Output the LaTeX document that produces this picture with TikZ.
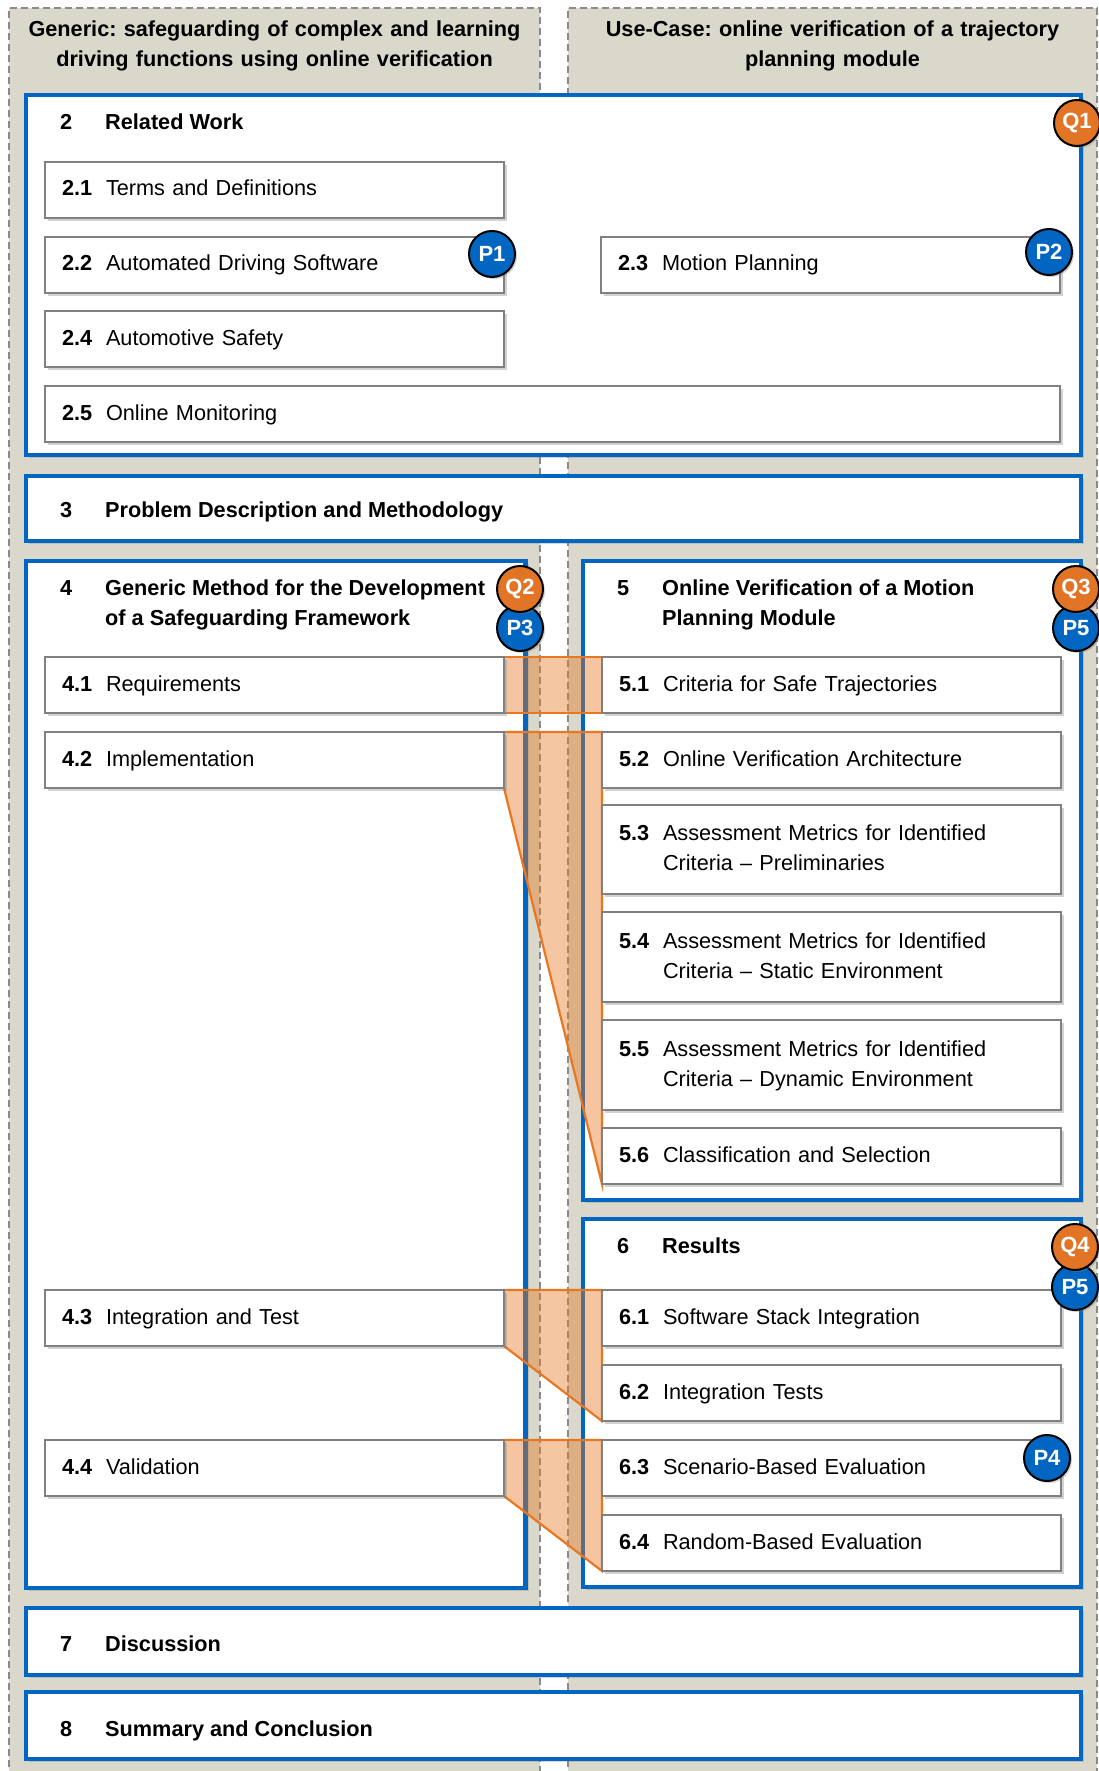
\documentclass[tikz,border=0pt]{standalone}
\usepackage{fontspec}
\setmainfont{Liberation Sans}
\usetikzlibrary{shadows}
\frenchspacing

\definecolor{colbg}{RGB}{218,216,203}
\definecolor{dashgrey}{RGB}{138,138,138}
\definecolor{secblue}{RGB}{0,102,193}
\definecolor{subgrey}{RGB}{128,128,128}
\definecolor{qorange}{RGB}{226,116,38}
\definecolor{bandline}{RGB}{232,119,34}

\pgfdeclarelayer{back}
\pgfdeclarelayer{mid}
\pgfsetlayers{back,mid,main}

% number column + (possibly two-line) title
\newcommand\numtext[2]{\makebox[44pt][l]{\bfseries #1}\begin{tabular}[t]{@{}l@{}}#2\end{tabular}}
\newcommand\headtext[2]{\makebox[45pt][l]{#1}\begin{tabular}[t]{@{}l@{}}#2\end{tabular}}

\tikzset{
  column/.style={draw=dashgrey, line width=1.8pt, dash pattern=on 7pt off 4pt},
  colhead/.style={font=\fontsize{21.7}{30}\selectfont\bfseries, text width=520pt,
    align=center, anchor=base, inner sep=0pt},
  bigbox/.style={draw=secblue, line width=4.5pt, fill=white, anchor=north west,
    inner sep=0pt, outer sep=0pt,
    drop shadow={shadow xshift=3pt, shadow yshift=-3pt, opacity=0.3}},
  heading/.style={font=\fontsize{21.7}{30}\selectfont\bfseries, anchor=base west,
    inner sep=0pt},
  subbox/.style={draw=subgrey, line width=2pt, fill=white, anchor=north west,
    outer sep=0pt, inner xsep=17pt, inner ysep=0pt, align=left,
    minimum height=56pt, font=\fontsize{21.7}{30}\selectfont,
    drop shadow={shadow xshift=3pt, shadow yshift=-3pt, opacity=0.35}},
  subL/.style={subbox, text width=425pt},
  subW/.style={subbox, text width=981pt},
  band/.style={draw=bandline, line width=2.2pt, fill=bandline, fill opacity=0.42},
  badge/.style={circle, draw=black, line width=2pt, minimum size=46pt,
    inner sep=0pt, text=white, font=\fontsize{22}{22}\selectfont\bfseries,
    drop shadow={shadow xshift=2pt, shadow yshift=-2pt, opacity=0.35}},
  qbadge/.style={badge, fill=qorange},
  pbadge/.style={badge, fill=secblue}
}

\begin{document}
\begin{tikzpicture}[x=1pt, y=-1pt]
\useasboundingbox (0,0) rectangle (1099,1771);

\begin{pgfonlayer}{back}
  % the two column panels
  \fill[colbg] (9,8) rectangle (540,1800);
  \draw[column] (9,1800) -- (9,8) -- (540,8) -- (540,1800);
  \fill[colbg] (568,8) rectangle (1097,1800);
  \draw[column] (568,1800) -- (568,8) -- (1097,8) -- (1097,1800);

  % chapter frames
  \node[bigbox, minimum width=1055pt, minimum height=360pt] (b2) at (26,95) {};
  \node[bigbox, minimum width=1055pt, minimum height=65pt] (b3) at (26,476) {};
  \node[bigbox, minimum width=499.5pt, minimum height=1027pt] (b4) at (26,561) {};
  \node[bigbox, minimum width=498pt, minimum height=639pt] (b5) at (583,561) {};
  \node[bigbox, minimum width=498pt, minimum height=368pt] (b6) at (583,1219) {};
  \node[bigbox, minimum width=1055pt, minimum height=67pt] (b7) at (26,1608) {};
  \node[bigbox, minimum width=1055pt, minimum height=67pt] (b8) at (26,1692) {};
\end{pgfonlayer}

% column titles
\node[colhead] (hgen) at (274.5,37) {Generic: safeguarding of complex and learning\\driving functions using online verification};
\node[colhead] (huse) at (832.5,37) {Use-Case: online verification of a trajectory\\planning module};

% chapter headings
\node[heading] (t2) at (60,130) {\headtext{2}{Related Work}};
\node[heading] (t3) at (60,517) {\headtext{3}{Problem Description and Methodology}};
\node[heading] (t4) at (60,595) {\headtext{4}{Generic Method for the Development\\of a Safeguarding Framework}};
\node[heading] (t5) at (617,595) {\headtext{5}{Online Verification of a Motion\\Planning Module}};
\node[heading] (t6) at (617,1253) {\headtext{6}{Results}};
\node[heading] (t7) at (60,1651) {\headtext{7}{Discussion}};
\node[heading] (t8) at (60,1736) {\headtext{8}{Summary and Conclusion}};

% sections
\node[subL] (s21) at (45,162) {\numtext{2.1}{Terms and Definitions}};
\node[subL] (s22) at (45,237) {\numtext{2.2}{Automated Driving Software}};
\node[subL] (s23) at (601,237) {\numtext{2.3}{Motion Planning}};
\node[subL] (s24) at (45,311) {\numtext{2.4}{Automotive Safety}};
\node[subW] (s25) at (45,386) {\numtext{2.5}{Online Monitoring}};

\node[subL] (s41) at (45,657) {\numtext{4.1}{Requirements}};
\node[subL] (s42) at (45,732) {\numtext{4.2}{Implementation}};
\node[subL] (s43) at (45,1290) {\numtext{4.3}{Integration and Test}};
\node[subL] (s44) at (45,1440) {\numtext{4.4}{Validation}};

\node[subL] (s51) at (602,657) {\numtext{5.1}{Criteria for Safe Trajectories}};
\node[subL] (s52) at (602,732) {\numtext{5.2}{Online Verification Architecture}};
\node[subL, minimum height=89pt] (s53) at (602,805) {\numtext{5.3}{Assessment Metrics for Identified\\Criteria \textendash{} Preliminaries}};
\node[subL, minimum height=90pt] (s54) at (602,912) {\numtext{5.4}{Assessment Metrics for Identified\\Criteria \textendash{} Static Environment}};
\node[subL, minimum height=90pt] (s55) at (602,1020) {\numtext{5.5}{Assessment Metrics for Identified\\Criteria \textendash{} Dynamic Environment}};
\node[subL] (s56) at (602,1128) {\numtext{5.6}{Classification and Selection}};

\node[subL] (s61) at (602,1290) {\numtext{6.1}{Software Stack Integration}};
\node[subL] (s62) at (602,1365) {\numtext{6.2}{Integration Tests}};
\node[subL] (s63) at (602,1440) {\numtext{6.3}{Scenario-Based Evaluation}};
\node[subL] (s64) at (602,1515) {\numtext{6.4}{Random-Based Evaluation}};

% mapping bands between generic method and use-case sections
\begin{pgfonlayer}{mid}
  \draw[band] (s41.north east) -- (s51.north west) -- (s51.south west) -- (s41.south east) -- cycle;
  \draw[band] (s42.north east) -- (s52.north west) -- (s56.south west) -- (s42.south east) -- cycle;
  \draw[band] (s43.north east) -- (s61.north west) -- (s62.south west) -- (s43.south east) -- cycle;
  \draw[band] (s44.north east) -- (s63.north west) -- (s64.south west) -- (s44.south east) -- cycle;
\end{pgfonlayer}

% publication and question markers
\node[pbadge] (p1) at (492,254) {P1};
\node[pbadge] (p2) at (1049,252) {P2};
\node[qbadge] (q1) at (1077,123) {Q1};
\node[pbadge] (p3) at (520,628) {P3};
\node[qbadge] (q2) at (520,589) {Q2};
\node[pbadge] (p5a) at (1076,628) {P5};
\node[qbadge] (q3) at (1076,589) {Q3};
\node[pbadge] (p5b) at (1075,1287) {P5};
\node[qbadge] (q4) at (1075,1247) {Q4};
\node[pbadge] (p4) at (1047,1458) {P4};
\end{tikzpicture}
\end{document}
